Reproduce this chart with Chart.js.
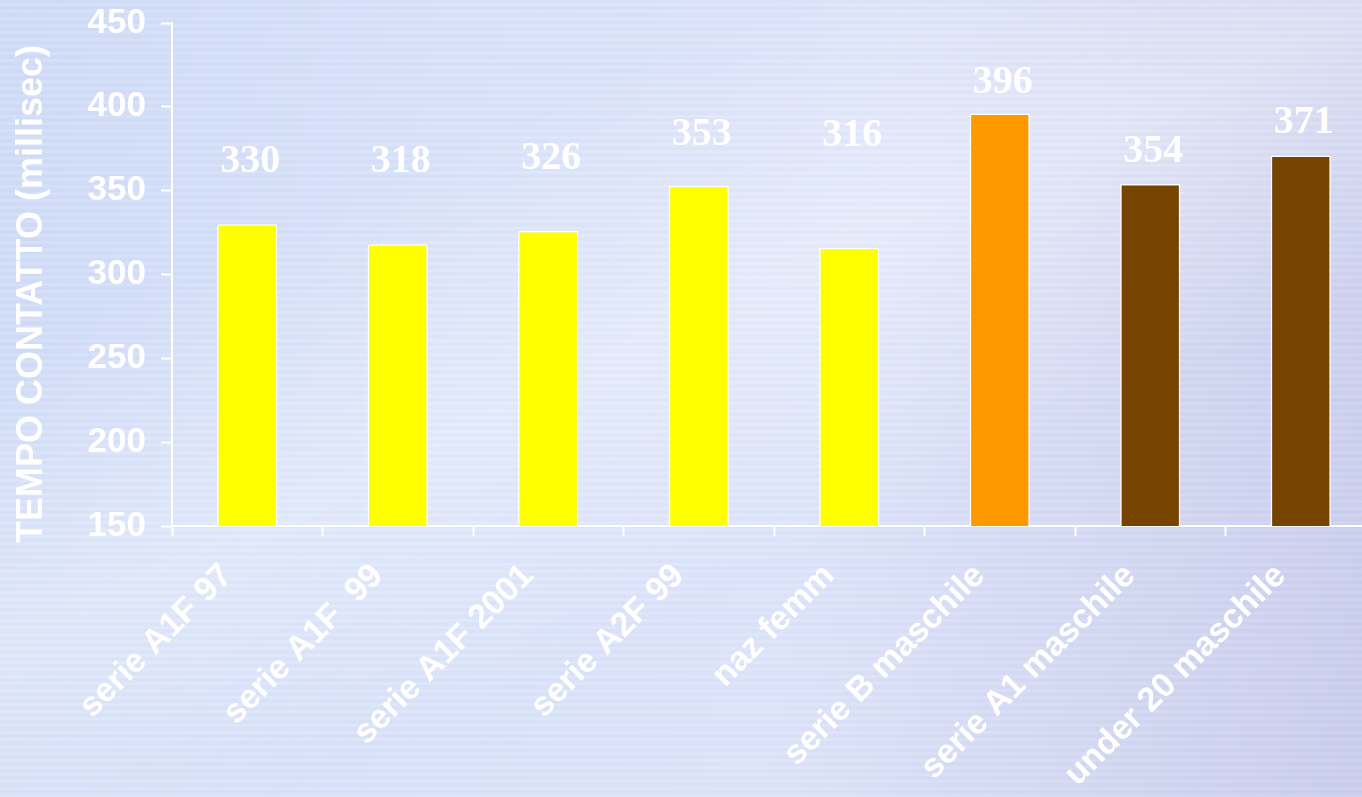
<!DOCTYPE html>
<html>
<head>
<meta charset="utf-8">
<script src="https://cdn.jsdelivr.net/npm/chart.js@4"></script>
<style>
  html, body {
    margin: 0;
    padding: 0;
    width: 1362px;
    height: 797px;
    overflow: hidden;
  }
  body {
    background:
      repeating-linear-gradient(0deg, rgba(255,255,255,0.10) 0px, rgba(255,255,255,0.10) 3px, rgba(190,200,235,0.07) 3px, rgba(190,200,235,0.07) 7px),
      linear-gradient(155deg, rgba(255,255,255,0) 25%, rgba(255,255,255,0.30) 45%, rgba(255,255,255,0) 65%),
      linear-gradient(100deg, #cfdbf6 0%, #d9e2f9 35%, #dde3f9 60%, #d1d5f0 85%, #c9ccec 100%);
  }
  #wrap {
    width: 1380px;
    height: 797px;
  }
</style>
</head>
<body>
<div id="wrap"><canvas id="tempoChart"></canvas></div>
<script>
// categorie e tempi di contatto (millisec)
const categories = ['serie A1F 97', 'serie A1F  99', 'serie A1F 2001', 'serie A2F 99', 'naz femm',
                    'serie B maschile', 'serie A1 maschile', 'under 20 maschile'];
const tempi = [330, 318, 326, 353, 316, 396, 354, 371];
const barColors = ['#ffff00', '#ffff00', '#ffff00', '#ffff00', '#ffff00', '#ff9900', '#774400', '#774400'];
const yMin = 150;
const yMax = 450;
const yStep = 50;

// distanza (px) fra la cima della barra e l'etichetta del valore
const labelLift = [52, 72, 62, 41, 102, 21, 22, 22];

const valueLabels = {
    id: 'valueLabels',
    afterDatasetsDraw(chart) {
        const ctx = chart.ctx;
        const meta = chart.getDatasetMeta(0);
        ctx.save();
        ctx.fillStyle = '#ffffff';
        ctx.font = 'bold 40px "Liberation Serif", "Times New Roman", serif';
        ctx.textAlign = 'center';
        ctx.textBaseline = 'alphabetic';
        meta.data.forEach((bar, i) => {
            ctx.fillText(String(tempi[i]), bar.x + 3, bar.y - labelLift[i]);
        });
        ctx.restore();
    }
};

const axisTitle = {
    id: 'axisTitle',
    afterDraw(chart) {
        const ctx = chart.ctx;
        ctx.save();
        ctx.translate(32, 294);
        ctx.rotate(-Math.PI / 2);
        ctx.fillStyle = '#ffffff';
        ctx.font = 'bold 36px "Liberation Sans", Arial, sans-serif';
        ctx.textAlign = 'center';
        ctx.textBaseline = 'middle';
        ctx.fillText('TEMPO CONTATTO (millisec)', 0, 0);
        ctx.restore();
    }
};

const ctx = document.getElementById('tempoChart').getContext('2d');
const tempoChart = new Chart(ctx, {
    type: 'bar',
    data: {
        labels: categories,
        datasets: [{
            data: tempi,
            backgroundColor: barColors,
            borderColor: '#ffffff',
            borderWidth: 1.5,
            barPercentage: 0.4,
            categoryPercentage: 1.0
        }]
    },
    options: {
        responsive: true,
        maintainAspectRatio: false,
        animation: false,
        layout: {
            padding: { top: 23, right: 4, left: 0, bottom: 0 }
        },
        plugins: {
            legend: { display: false },
            tooltip: { enabled: false }
        },
        scales: {
            x: {
                afterFit: s => { s.height = 271; },
                grid: {
                    offset: true,
                    drawOnChartArea: false,
                    drawTicks: true,
                    tickLength: 10,
                    tickColor: '#ffffff',
                    tickWidth: 2
                },
                border: { color: '#ffffff', width: 2 },
                ticks: {
                    color: '#ffffff',
                    minRotation: 45,
                    maxRotation: 45,
                    autoSkip: false,
                    padding: 20,
                    labelOffset: -20,
                    font: { family: '"Liberation Sans", Arial, sans-serif', size: 34, weight: 'bold' }
                }
            },
            y: {
                min: yMin,
                max: yMax,
                afterFit: s => {
                    s.width = 172;
                    s.paddingTop = 0;
                    s.paddingBottom = 0;
                },
                grid: {
                    drawOnChartArea: false,
                    drawTicks: true,
                    tickLength: 11,
                    tickColor: '#ffffff',
                    tickWidth: 2
                },
                border: { color: '#ffffff', width: 2 },
                ticks: {
                    stepSize: yStep,
                    color: '#ffffff',
                    padding: 15,
                    font: { family: '"Liberation Sans", Arial, sans-serif', size: 35, weight: 'bold' }
                }
            }
        }
    },
    plugins: [valueLabels, axisTitle]
});
</script>
</body>
</html>
